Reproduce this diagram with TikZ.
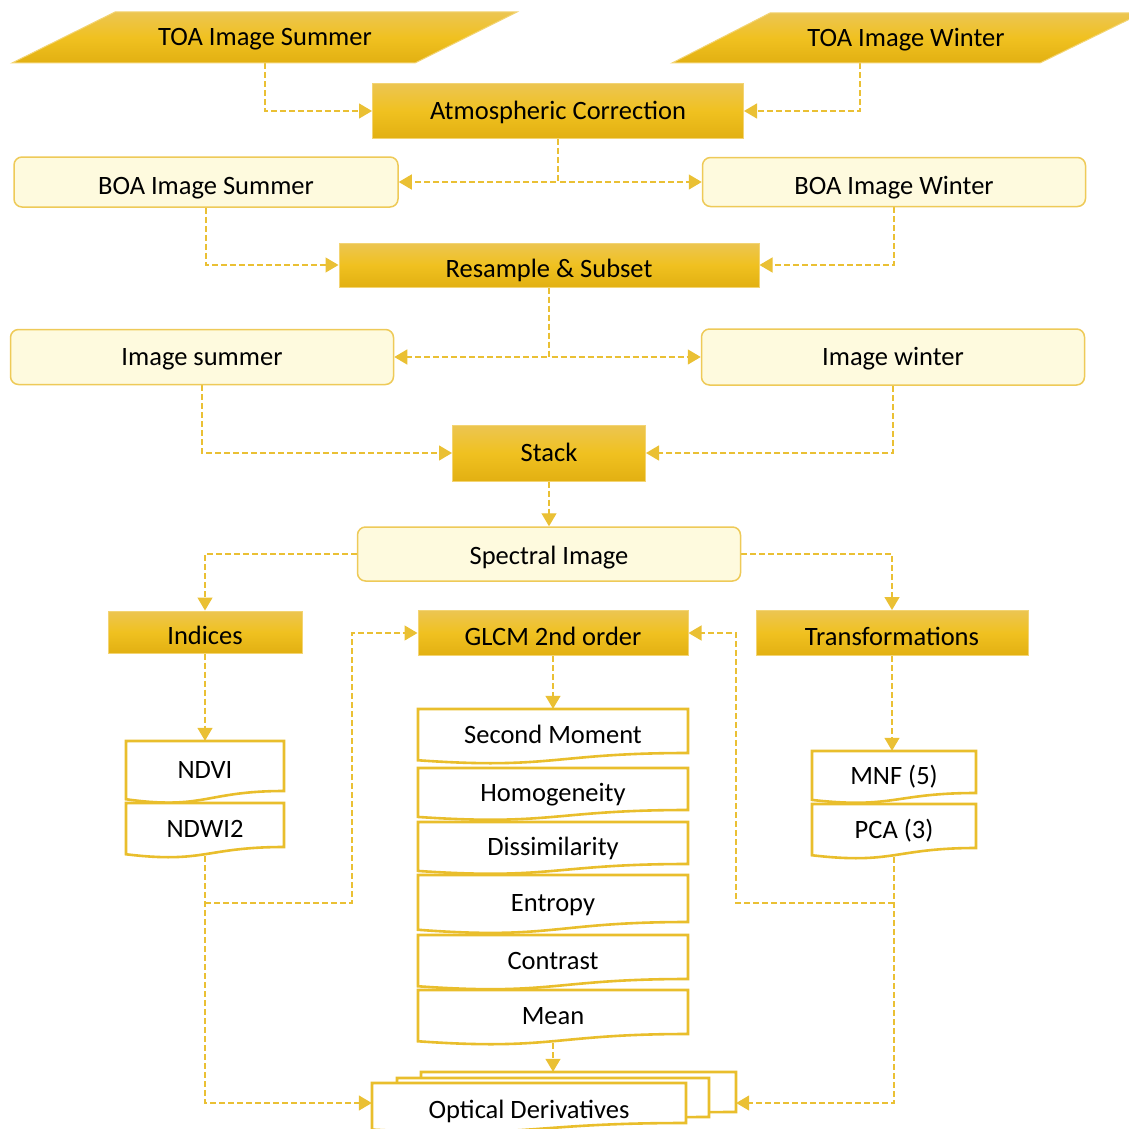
\documentclass[tikz,border=0pt]{standalone}
\usepackage{fontspec}
\setmainfont{Carlito}
\usetikzlibrary{arrows.meta,backgrounds}

\definecolor{goldtop}{RGB}{236,197,82}
\definecolor{goldmid}{RGB}{240,193,32}
\definecolor{goldbot}{RGB}{226,176,18}
\definecolor{goldedge}{RGB}{243,212,115}
\definecolor{wire}{RGB}{234,192,52}
\definecolor{sheetedge}{RGB}{233,190,44}
\definecolor{creambg}{RGB}{254,250,222}
\definecolor{creamedge}{RGB}{238,202,88}

\tikzset{
  base/.style={font=\fontsize{26.5}{31}\selectfont, inner sep=0pt, text height=19pt, text depth=2pt},
  goldpaint/.style={draw=goldedge, line width=1pt, top color=goldtop, bottom color=goldbot, middle color=goldmid},
  goldbox/.style={base, goldpaint},
  creambox/.style={base, draw=creamedge, line width=1.5pt, fill=creambg, rounded corners=8pt},
  ghost/.style={base},
  lowtext/.style={text height=27pt},
  doctext/.style={base, text height=27pt},
  sheetline/.style={draw=sheetedge, line width=2.6pt, fill=white},
  link/.style={draw=wire, line width=1.4pt, dash pattern=on 6pt off 3pt, -{Triangle[length=13pt,width=15pt]}},
}

% document shape: name, left, top, right, height of right edge, label
\newcommand\docsheet[6]{%
  \pgfmathsetmacro\dmid{(#2+#4)/2}%
  \pgfmathsetmacro\dbot{#3+#5}%
  \pgfmathsetmacro\dctl{#3+1.382*#5}%
  \pgfmathsetmacro\dlow{#3+1.165*#5}%
  \pgfmathsetmacro\dwid{#4-#2}%
  \pgfmathsetmacro\dcy{#3+#5/2}%
  \path[sheetline] (#2,#3) -- (#4,#3) -- (#4,\dbot)
     .. controls (\dmid,\dbot) and (\dmid,\dctl) .. (#2,\dlow) -- cycle;
  \node[doctext, minimum width=\dwid pt, minimum height=#5 pt] (#1) at (\dmid,\dcy) {#6};
}

\begin{document}
\begin{tikzpicture}[x=1pt,y=-1pt]
\useasboundingbox (0,0) rectangle (1129,1129);

% input scenes
\path[goldpaint] (12,63) -- (415,63) -- (517,12) -- (115,12) -- cycle;
\node[ghost, minimum width=300, minimum height=51] (toaS) at (265,37.5) {TOA Image Summer};
\path[goldpaint] (672,63) -- (1040,63) -- (1142,13) -- (770,13) -- cycle;
\node[ghost, minimum width=300, minimum height=50] (toaW) at (906,38) {TOA Image Winter};

% preprocessing chain
\node[goldbox, minimum width=371, minimum height=55] (atm) at (558,111) {Atmospheric Correction};
\node[creambox, lowtext, minimum width=384, minimum height=50] (boaS) at (206,182) {BOA Image Summer};
\node[creambox, lowtext, minimum width=383, minimum height=49] (boaW) at (894,182) {BOA Image Winter};
\node[goldbox, lowtext, minimum width=420, minimum height=44] (res) at (549,265) {Resample \& Subset};
\node[creambox, minimum width=383, minimum height=55] (imS) at (202,357) {Image summer};
\node[creambox, minimum width=383, minimum height=56] (imW) at (893,357) {Image winter};
\node[goldbox, minimum width=193, minimum height=56] (stack) at (549,453) {Stack};
\node[creambox, text height=22pt, minimum width=383, minimum height=54] (spec) at (549,554) {Spectral Image};

% derivative groups
\node[goldbox, lowtext, minimum width=194, minimum height=42] (ind) at (205,632) {Indices};
\node[goldbox, lowtext, minimum width=270, minimum height=45] (glcm) at (553,633) {GLCM 2nd order};
\node[goldbox, lowtext, minimum width=272, minimum height=45] (trans) at (892,633) {Transformations};

% indices
\docsheet{ndvi}{126}{741}{284}{50}{NDVI}
\docsheet{ndwi}{126}{803}{284}{44}{NDWI2}

% texture measures
\docsheet{sm}{418}{709}{688}{44}{Second Moment}
\docsheet{hom}{418}{768}{688}{42}{Homogeneity}
\docsheet{dis}{418}{822}{688}{42}{Dissimilarity}
\docsheet{ent}{418}{875}{688}{47}{Entropy}
\docsheet{con}{418}{935}{688}{44}{Contrast}
\docsheet{mean}{418}{990}{688}{44}{Mean}

% transformations
\docsheet{mnf}{812}{751}{976}{42}{MNF (5)}
\docsheet{pca}{812}{804}{976}{44}{PCA (3)}

% output stack
\docsheet{odback}{421}{1072}{736}{40}{}
\docsheet{odmid}{397}{1078}{709}{39}{}
\docsheet{od}{372}{1083}{686}{40}{\raisebox{-3pt}{Optical Derivatives}}

\coordinate (lbend) at (352,903);
\coordinate (rbend) at (736,903);

\begin{scope}[on background layer]
  \draw[link] (toaS.south) |- (atm.west);
  \draw[link] ([xshift=-46pt]toaW.south) |- (atm.east);
  \draw[link] (atm.south) |- (boaS.east);
  \draw[link] (atm.south) |- (boaW.west);
  \draw[link] (boaS.south) |- (res.west);
  \draw[link] (boaW.south) |- (res.east);
  \draw[link] (res.south) |- (imS.east);
  \draw[link] (res.south) |- (imW.west);
  \draw[link] (imS.south) |- (stack.west);
  \draw[link] (imW.south) |- (stack.east);
  \draw[link] (stack.south) -- (spec.north);
  \draw[link] (spec.west) -| (ind.north);
  \draw[link] (spec.east) -| (trans.north);
  \draw[link] (ind.south) -- (ndvi.north);
  \draw[link] (glcm.south) -- (sm.north);
  \draw[link] (trans.south) -- (trans.south |- mnf.north);
  \draw[link] (mean.south) -- (mean.south |- odback.north);
  \draw[link] (ndwi.south) |- (od.west);
  \draw[link] (pca.south) |- (odback.east |- od.east);
  \draw[link] (ndwi.south |- lbend) -- (lbend) |- (glcm.west);
  \draw[link] (pca.south |- rbend) -- (rbend) |- (glcm.east);
\end{scope}
\end{tikzpicture}
\end{document}
